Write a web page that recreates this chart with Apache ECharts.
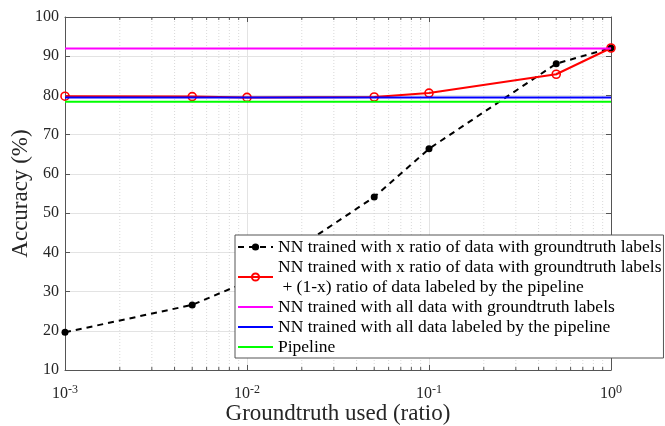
<!DOCTYPE html>
<html>
<head>
<meta charset="utf-8">
<script src="https://cdn.jsdelivr.net/npm/echarts@6/dist/echarts.min.js"></script>
<style>html,body{margin:0;padding:0;background:#fff;}#c{width:665px;height:426px;}</style>
</head>
<body>
<div id="c"></div>
<script>
// ---- data ----
var xRatio = [0.001, 0.005, 0.01, 0.05, 0.1, 0.5, 1];
var nnGroundtruth = [19.6, 26.6, 32.5, 54.1, 66.4, 88.1, 92.1];
var nnMixed = [79.8, 79.7, 79.5, 79.6, 80.6, 85.4, 92.1];
var xSpan = [0.001, 1];
var allGroundtruth = 92.0;
var allPipelineLabeled = 79.5;
var pipelineAcc = 78.4;
var minorTicks = [0.002,0.003,0.004,0.005,0.006,0.007,0.008,0.009,
                  0.02,0.03,0.04,0.05,0.06,0.07,0.08,0.09,
                  0.2,0.3,0.4,0.5,0.6,0.7,0.8,0.9];
var yTicks = {min: 10, max: 100, interval: 10};
var names = [
  'NN trained with x ratio of data with groundtruth labels',
  'NN trained with x ratio of data with groundtruth labels\n + (1-x) ratio of data labeled by the pipeline',
  'NN trained with all data with groundtruth labels',
  'NN trained with all data labeled by the pipeline',
  'Pipeline'
];

var FONT = '"Liberation Serif", "DejaVu Serif", serif';
var AX = '#555555';
var TXT = '#262626';

function pairs(xs, ys) { return xs.map(function (x, i) { return [x, ys[i]]; }); }
function hline(v) { return xSpan.map(function (x) { return [x, v]; }); }

var chart = echarts.init(document.getElementById('c'), null, {renderer: 'canvas'});
var xCommon = {
  type: 'log', logBase: 10, min: 0.001, max: 1,
  axisLine: {show: true, lineStyle: {color: AX, width: 1}},
  axisTick: {show: true, inside: true, length: 5, lineStyle: {color: AX}},
  minorTick: {show: false},
  minorSplitLine: {show: false}
};
var hideSym = {color: 'rgba(0,0,0,0)', borderColor: 'rgba(0,0,0,0)', borderWidth: 0, opacity: 0};
chart.setOption({
  animation: false,
  grid: {left: 65, right: 54, top: 17, bottom: 56, containLabel: false, outerBoundsMode: 'none'},
  xAxis: [
    Object.assign({}, xCommon, {
      position: 'bottom',
      name: 'Groundtruth used (ratio)', nameLocation: 'middle', nameGap: 32, nameMoveOverlap: false,
      nameTextStyle: {fontFamily: FONT, fontSize: 23, color: TXT},
      splitLine: {show: true, lineStyle: {color: '#e3e3e3', width: 1}},
      axisLabel: {
        margin: 14,
        formatter: function (v) {
          var e = Math.round(Math.log10(v));
          return '{b|10}{s|' + e + '}';
        },
        rich: {
          b: {fontFamily: FONT, fontSize: 16, color: TXT},
          s: {fontFamily: FONT, fontSize: 12, color: TXT, verticalAlign: 'bottom', padding: [0, 0, 7, 0]}
        }
      }
    }),
    Object.assign({}, xCommon, {
      position: 'top', axisLabel: {show: false}, splitLine: {show: false}
    })
  ],
  yAxis: [
    {
      type: 'value', min: yTicks.min, max: yTicks.max, interval: yTicks.interval, position: 'left',
      name: 'Accuracy (%)', nameLocation: 'middle', nameGap: 33, nameMoveOverlap: false,
      nameTextStyle: {fontFamily: FONT, fontSize: 23, color: TXT},
      axisLine: {show: true, lineStyle: {color: AX, width: 1}},
      axisTick: {show: true, inside: true, length: 5, lineStyle: {color: AX}},
      axisLabel: {fontFamily: FONT, fontSize: 16, color: TXT, margin: 6},
      splitLine: {show: true, lineStyle: {color: '#e3e3e3', width: 1}}
    },
    {
      type: 'value', min: yTicks.min, max: yTicks.max, interval: yTicks.interval, position: 'right',
      axisLine: {show: true, lineStyle: {color: AX, width: 1}},
      axisTick: {show: true, inside: true, length: 5, lineStyle: {color: AX}},
      axisLabel: {show: false},
      splitLine: {show: false}
    }
  ],
  legend: {
    orient: 'vertical', left: 235, top: 235,
    itemGap: 0, itemWidth: 35, itemHeight: 9,
    padding: [2, 2, 1, 2],
    backgroundColor: '#ffffff', borderColor: AX, borderWidth: 1, borderRadius: 0,
    textStyle: {fontFamily: FONT, fontSize: 17.5, color: '#000', lineHeight: 20},
    data: [
      {name: names[0]},
      {name: names[1]},
      {name: names[2], itemStyle: hideSym},
      {name: names[3], itemStyle: hideSym},
      {name: names[4], itemStyle: hideSym}
    ]
  },
  series: [
    {
      type: 'custom', name: 'minor', xAxisIndex: 0, yAxisIndex: 0, silent: true, z: 1,
      data: minorTicks.map(function (v) { return [v, yTicks.min]; }),
      encode: {x: 0, y: 1},
      renderItem: function (params, api) {
        var v = api.value(0);
        var b = api.coord([v, yTicks.min]);
        var t = api.coord([v, yTicks.max]);
        return {
          type: 'group',
          children: [
            {type: 'line', shape: {x1: b[0], y1: b[1], x2: t[0], y2: t[1]},
             style: {stroke: '#cfcfcf', lineWidth: 0.8, lineDash: [1, 2]}},
            {type: 'line', shape: {x1: b[0], y1: b[1], x2: b[0], y2: b[1] - 3},
             style: {stroke: AX, lineWidth: 1}},
            {type: 'line', shape: {x1: t[0], y1: t[1], x2: t[0], y2: t[1] + 3},
             style: {stroke: AX, lineWidth: 1}}
          ]
        };
      }
    },
    {
      type: 'line', name: names[0], data: pairs(xRatio, nnGroundtruth),
      symbol: 'circle', symbolSize: 7, z: 3,
      lineStyle: {color: '#000', width: 2, type: [6, 5]},
      itemStyle: {color: '#000'}
    },
    {
      type: 'line', name: names[1], data: pairs(xRatio, nnMixed),
      symbol: 'circle', symbolSize: 8, z: 4,
      lineStyle: {color: '#ff0000', width: 2},
      itemStyle: {color: 'rgba(255,255,255,0)', borderColor: '#ff0000', borderWidth: 1.6}
    },
    {
      type: 'line', name: names[2], data: hline(allGroundtruth), symbol: 'none', z: 5,
      lineStyle: {color: '#ff00ff', width: 2}, itemStyle: {color: '#ff00ff'}
    },
    {
      type: 'line', name: names[3], data: hline(allPipelineLabeled), symbol: 'none', z: 6,
      lineStyle: {color: '#0000ff', width: 2}, itemStyle: {color: '#0000ff'}
    },
    {
      type: 'line', name: names[4], data: hline(pipelineAcc), symbol: 'none', z: 7,
      lineStyle: {color: '#00ff00', width: 2}, itemStyle: {color: '#00ff00'}
    }
  ]
});
</script>
</body>
</html>
